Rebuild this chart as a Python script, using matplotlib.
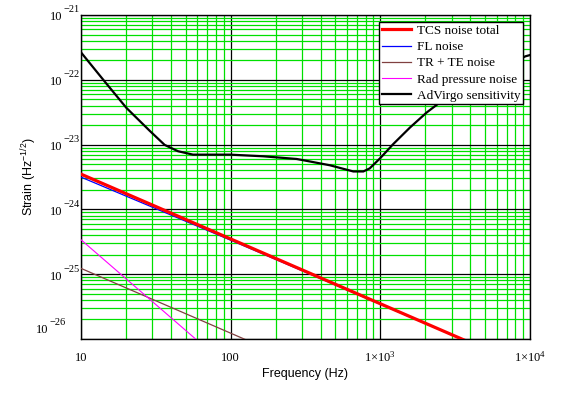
import matplotlib

matplotlib.use("Agg")
import matplotlib.pyplot as plt
from matplotlib.ticker import FixedLocator, LogLocator, NullFormatter

# values (frequency in Hz, strain in Hz^-1/2)
tcs_freq = [10, 100, 1000, 10000]
tcs_strain = [3.5e-24, 3.5e-25, 3.5e-26, 3.5e-27]

fl_freq = [10, 100, 1000, 10000]
fl_strain = [3.15e-24, 3.35e-25, 3.45e-26, 3.5e-27]

trte_freq = [10, 100, 1000]
trte_strain = [1.23e-25, 1.23e-26, 1.23e-27]

rad_freq = [10, 100]
rad_strain = [3.4e-25, 3.4e-27]

virgo_freq = [10, 14.4, 20.1, 28.8, 36.2, 44.5, 56, 99, 165, 276, 460, 660, 770,
              850, 1000, 1220, 1580, 2040, 2570, 5000, 9300, 10000]
virgo_strain = [2.65e-22, 9.4e-23, 3.69e-23, 1.63e-23, 9.9e-24, 7.9e-24, 7.0e-24,
                7.0e-24, 6.6e-24, 6.0e-24, 4.8e-24, 3.85e-24, 3.85e-24,
                4.3e-24, 6.2e-24, 1.02e-23, 1.84e-23, 3.13e-23, 4.7e-23, 1.1e-22,
                2.3e-22, 2.41e-22]

x_ticks = [10, 100, 1000, 10000]
x_ticklabels = ["10", "100", r"$\mathregular{1{\times}10^{3}}$", r"$\mathregular{1{\times}10^{4}}$"]
y_ticks = [1e-26, 1e-25, 1e-24, 1e-23, 1e-22, 1e-21]
y_exponents = ["\u221226", "\u221225", "\u221224", "\u221223", "\u221222", "\u221221"]

SERIF = "Liberation Serif"
SANS = "Liberation Sans"

fig = plt.figure(figsize=(5.62, 3.93), dpi=100)
ax = fig.add_axes([81 / 562, 1 - 339 / 393, 449 / 562, 324 / 393])

ax.plot(tcs_freq, tcs_strain, color="red", lw=2.3, label="TCS noise total", zorder=4)
ax.plot(fl_freq, fl_strain, color="blue", lw=0.9, label="FL noise", zorder=3)
ax.plot(trte_freq, trte_strain, color="#804040", lw=0.9, label="TR + TE noise", zorder=3)
ax.plot(rad_freq, rad_strain, color="magenta", lw=0.8, label="Rad pressure noise", zorder=3)
ax.plot(virgo_freq, virgo_strain, color="black", lw=1.6, label="AdVirgo sensitivity", zorder=4)

ax.set_xscale("log")
ax.set_yscale("log")
ax.set_xlim(10, 1e4)
ax.set_ylim(1e-26, 1e-21)

ax.xaxis.set_major_locator(FixedLocator(x_ticks))
ax.yaxis.set_major_locator(FixedLocator(y_ticks))
ax.xaxis.set_minor_locator(LogLocator(base=10, subs=range(2, 10)))
ax.yaxis.set_minor_locator(LogLocator(base=10, subs=range(2, 10)))
ax.xaxis.set_minor_formatter(NullFormatter())
ax.yaxis.set_minor_formatter(NullFormatter())
ax.yaxis.set_major_formatter(NullFormatter())
ax.set_xticklabels(x_ticklabels, family=SERIF, fontsize=9)
ax.tick_params(which="both", length=0)
ax.tick_params(axis="x", pad=16)
for lab in ax.get_xticklabels():
    lab.set_verticalalignment("baseline")

# y labels drawn Mathcad style: "10" with a large raised exponent
for i, (v, e) in enumerate(zip(y_ticks, y_exponents)):
    dx, dy = (-14, 11.7) if i == 0 else (0, 0)  # lowest label sits up and left
    ax.annotate("10", xy=(0, v), xycoords=("axes fraction", "data"),
                xytext=(-19 + dx, -5.5 + dy), textcoords="offset pixels",
                ha="right", va="baseline", family=SERIF, fontsize=9)
    ax.annotate(e, xy=(0, v), xycoords=("axes fraction", "data"),
                xytext=(-17.7 + dx, 2.7 + dy), textcoords="offset pixels",
                ha="left", va="baseline", family=SERIF, fontsize=7.5)

ax.set_axisbelow(True)
ax.grid(which="minor", color="#00e000", lw=0.9)
ax.grid(which="major", color="black", lw=0.9)
for sp in ax.spines.values():
    sp.set_linewidth(1.0)

ax.set_xlabel("Frequency (Hz)", family=SANS, fontsize=9, labelpad=3)
ax.set_ylabel(r"Strain (Hz$^{\mathregular{-1/2}}$)", family=SANS, fontsize=9)
ax.yaxis.set_label_coords((39 - 81) / 449, 0.5)

leg = ax.legend(loc="upper right", bbox_to_anchor=(0.9844, 0.978), borderaxespad=0,
                prop={"family": SERIF, "size": 9.5}, fancybox=False, framealpha=1,
                edgecolor="black", handlelength=2.25, handletextpad=0.4,
                labelspacing=0.3, borderpad=0.2)
leg.get_frame().set_linewidth(1.0)

fig.savefig("out.png", dpi=100)
